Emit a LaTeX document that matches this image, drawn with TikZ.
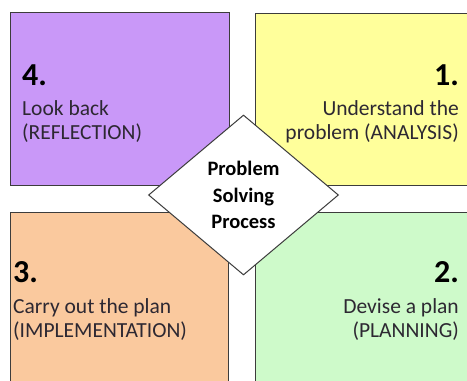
\documentclass[tikz,border=0pt]{standalone}
\usepackage{fontspec}
\setmainfont{Carlito}
\usetikzlibrary{shapes.geometric}
\definecolor{cpurple}{RGB}{201,152,248}
\definecolor{cyellow}{RGB}{255,255,155}
\definecolor{corange}{RGB}{250,201,158}
\definecolor{cgreen}{RGB}{206,250,202}
\definecolor{cborder}{RGB}{60,60,60}
\definecolor{ctext}{RGB}{45,40,50}
\tikzset{
  quad/.style={draw=cborder, line width=1.3pt, rectangle, inner sep=0pt, anchor=north west},
  numlbl/.style={font=\fontsize{32}{32}\selectfont\bfseries, text=black, inner sep=0pt},
  desclbl/.style={font=\fontsize{21.5}{24}\selectfont, text=ctext, inner sep=0pt},
  hub/.style={draw=cborder, line width=1pt, fill=white, shape=diamond, aspect=1.1875,
    minimum width=190pt, minimum height=160pt, inner sep=0pt},
  hublbl/.style={font=\fontsize{20.5}{26.5}\selectfont\bfseries, align=center, text=black, inner sep=0pt}
}
\begin{document}
\begin{tikzpicture}[x=1pt,y=-1pt]
\useasboundingbox[fill=white] (0,0) rectangle (467,381);
\begin{scope}
\clip (0,0) rectangle (467,381);
% quadrants
\node[quad, fill=cpurple, minimum width=219pt, minimum height=173pt] (qfour) at (10,12) {};
\node[quad, fill=cyellow, minimum width=220pt, minimum height=172pt] (qone) at (255,13) {};
\node[quad, fill=corange, minimum width=218pt, minimum height=180pt] (qthree) at (10,212) {};
\node[quad, fill=cgreen, minimum width=220pt, minimum height=180pt] (qtwo) at (255,212) {};
% labels: 4
\node[numlbl, anchor=base west] (n4) at (22,85) {4.};
\node[desclbl, anchor=base west] (d4a) at (22,115) {Look back};
\node[desclbl, anchor=base west] (d4b) at (22,139) {(REFLECTION)};
% labels: 1
\node[numlbl, anchor=base east] (n1) at (459,85) {1.};
\node[desclbl, anchor=base east] (d1a) at (459,115) {Understand the};
\node[desclbl, anchor=base east] (d1b) at (459,139) {problem (ANALYSIS)};
% labels: 3
\node[numlbl, anchor=base west] (n3) at (13,282) {3.};
\node[desclbl, anchor=base west] (d3a) at (13,313) {Carry out the plan};
\node[desclbl, anchor=base west] (d3b) at (13,337) {(IMPLEMENTATION)};
% labels: 2
\node[numlbl, anchor=base east] (n2) at (459,282) {2.};
\node[desclbl, anchor=base east] (d2a) at (459,313) {Devise a plan};
\node[desclbl, anchor=base east] (d2b) at (459,337) {(PLANNING)};
% centre diamond
\node[hub] (hub) at (243.5,195) {};
\node[hublbl, anchor=base] (hubt1) at (243.5,175) {Problem};
\node[hublbl, anchor=base] (hubt2) at (243.5,202) {Solving};
\node[hublbl, anchor=base] (hubt3) at (243.5,228) {Process};
\end{scope}
\end{tikzpicture}
\end{document}
